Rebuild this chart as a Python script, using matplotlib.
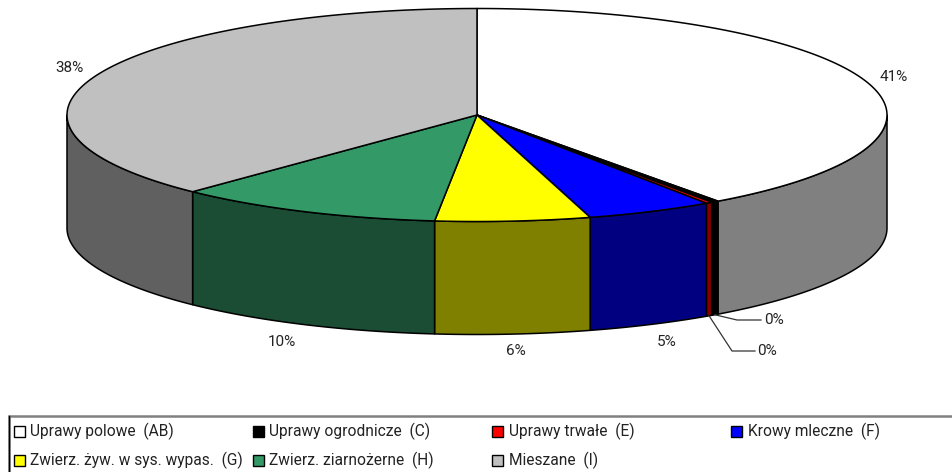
import numpy as np
import matplotlib
matplotlib.use('Agg')
import matplotlib.pyplot as plt
from matplotlib.patches import Polygon, Rectangle

names = ['Uprawy polowe  (AB)', 'Uprawy ogrodnicze  (C)', 'Uprawy trwałe  (E)',
         'Krowy mleczne  (F)', 'Zwierz. żyw. w sys. wypas.  (G)',
         'Zwierz. ziarnożerne  (H)', 'Mieszane  (I)']
values = [40.0, 0.3, 0.25, 5.0, 6.1, 10.55, 37.8]
pct_labels = ['41%', '0%', '0%', '5%', '6%', '10%', '38%']
colors = ['#FFFFFF', '#000000', '#FF0000', '#0000FF', '#FFFF00', '#339966', '#C0C0C0']
side_colors = ['#808080', '#000000', '#800000', '#000080', '#808000', '#1A4D33', '#606060']

CX, CY, RX, RY, DEPTH = 477, 115, 410, 106.5, 113

plt.rcParams['font.family'] = ['Roboto', 'DejaVu Sans']

fig = plt.figure(figsize=(9.52, 4.72), dpi=100)
ax = fig.add_axes([0, 0, 1, 1])
ax.set_xlim(0, 952)
ax.set_ylim(472, 0)
ax.axis('off')


def rim(t):
    return CX + RX * np.sin(t), CY - RY * np.cos(t)


edges = np.radians(np.concatenate([[0], np.cumsum(values)]) / sum(values) * 360)

# sides first, only the front half of the rim shows
for i in range(len(values)):
    lo, hi = max(edges[i], np.pi / 2), min(edges[i + 1], 3 * np.pi / 2)
    if hi <= lo:
        continue
    t = np.linspace(lo, hi, 80)
    x, y = rim(t)
    pts = np.r_[np.c_[x, y], np.c_[x[::-1], y[::-1] + DEPTH]]
    ax.add_patch(Polygon(pts, closed=True, fc=side_colors[i], ec='black', lw=1.1, joinstyle='round'))

for i in range(len(values)):
    t = np.linspace(edges[i], edges[i + 1], 200)
    x, y = rim(t)
    pts = np.r_[[[CX, CY]], np.c_[x, y]]
    ax.add_patch(Polygon(pts, closed=True, fc=colors[i], ec='black', lw=1.1, joinstyle='round'))

label_pos = [(894, 77), None, None, (667, 342), (516, 351), (282, 342), (69, 68)]
for i, pos in enumerate(label_pos):
    if pos:
        ax.text(pos[0], pos[1], pct_labels[i], ha='center', va='center', fontsize=11, color='#222222')

# leader lines for the two thin slices
leaders = {1: ((737, 320), (761, 320), (764, 320)), 2: ((732, 351), (755, 351), (757, 351))}
for i, (knee, end, txt) in leaders.items():
    x, y = rim((edges[i] + edges[i + 1]) / 2)
    ax.plot([x, knee[0], end[0]], [y + DEPTH, knee[1], end[1]], color='#333333', lw=0.9)
    ax.text(txt[0], txt[1], pct_labels[i], ha='left', va='center', fontsize=11, color='#222222')

# legend box runs off the right and bottom of the picture
ax.add_patch(Rectangle((8.5, 415.5), 960, 80, fc='white', ec='#808080', lw=1.8))
ax.plot([8.5, 8.5], [416, 472], color='black', lw=1.0)

col_swatch = [14, 253, 492, 731]
col_text = [30, 269, 509, 748]
row_y = [431, 460]
for i, name in enumerate(names):
    col, row = i % 4, i // 4
    ax.add_patch(Rectangle((col_swatch[col], row_y[row] - 5.5), 11, 11, fc=colors[i], ec='black', lw=1.0))
    ax.text(col_text[col], row_y[row], name, ha='left', va='center', fontsize=11.2, color='#222222')

fig.savefig('out.png', dpi=100)
